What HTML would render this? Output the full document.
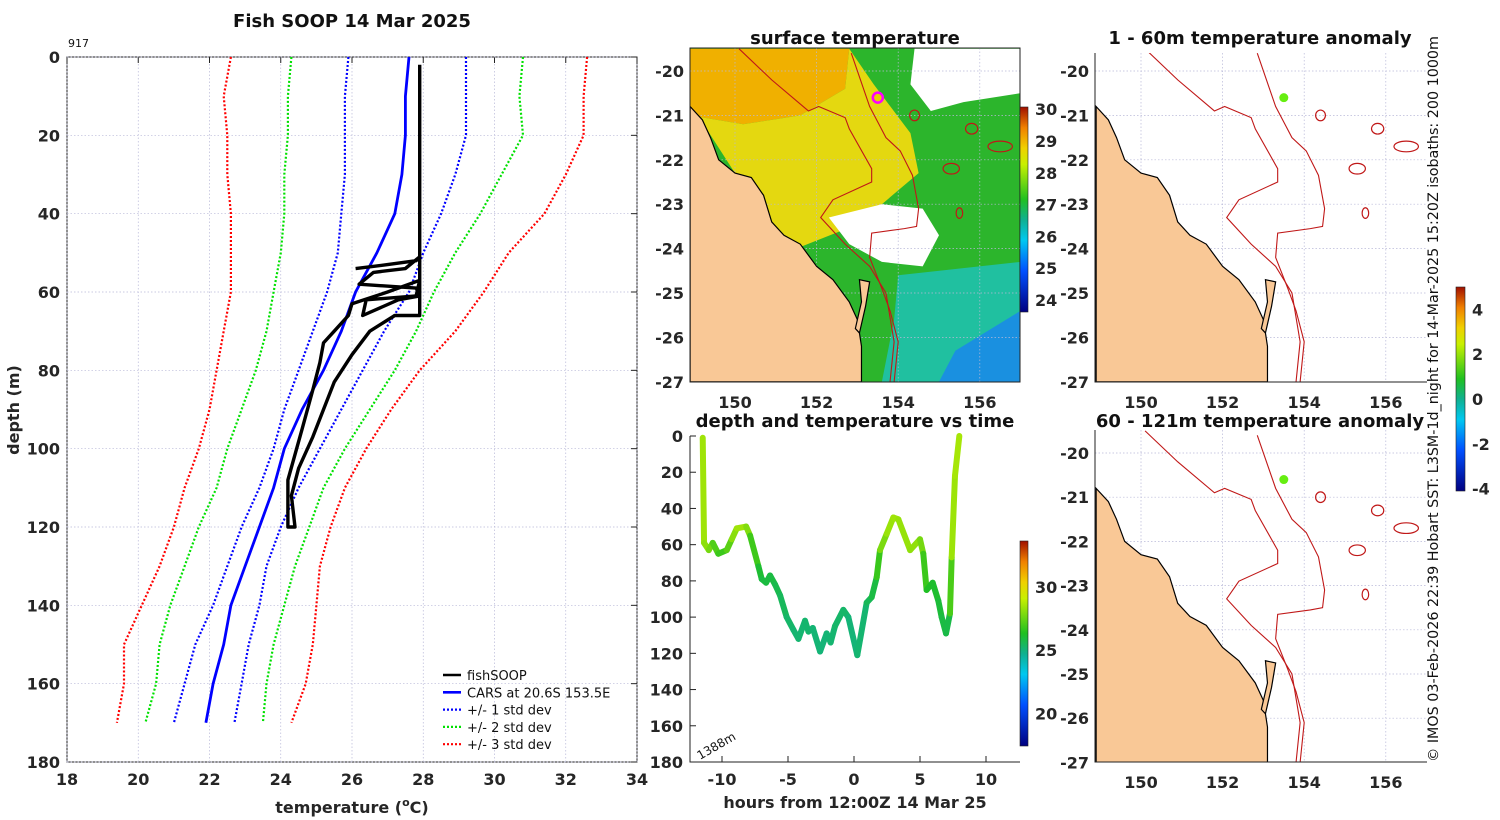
<!DOCTYPE html>
<html><head><meta charset="utf-8">
<style>
html,body{margin:0;padding:0;background:#fff;}
svg{display:block;font-family:"DejaVu Sans","Liberation Sans",sans-serif;}
.tk{font-size:16px;font-weight:bold;fill:#262626;}
.tt{font-size:18px;font-weight:bold;fill:#111;}
.lg{font-size:13px;fill:#111;}
</style></head>
<body>
<svg id="fig" width="1500" height="820" viewBox="0 0 1500 820">
<defs>
<clipPath id="clipSST"><rect x="690" y="48" width="330" height="334"/></clipPath>
<clipPath id="clipA1"><rect x="1095" y="53" width="332" height="329"/></clipPath>
<clipPath id="clipA2"><rect x="1095" y="430" width="332" height="332"/></clipPath>
<linearGradient id="cbar" x1="0" y1="1" x2="0" y2="0">
<stop offset="0" stop-color="#000080"/><stop offset="0.2" stop-color="#0050ff"/><stop offset="0.35" stop-color="#00c8f0"/><stop offset="0.45" stop-color="#10b090"/><stop offset="0.55" stop-color="#20c020"/><stop offset="0.72" stop-color="#c8f000"/><stop offset="0.8" stop-color="#f0d000"/><stop offset="0.9" stop-color="#f08000"/><stop offset="1" stop-color="#a01000"/>
</linearGradient>
</defs>
<g id="profile"></g>
<g id="maps"></g>
<g id="timep"></g>
<text x="352" y="27" text-anchor="middle" class="tt">Fish SOOP 14 Mar 2025</text>
<text x="68" y="47" font-size="11" fill="#111">917</text>
<text x="352" y="813" text-anchor="middle" class="tk" font-size="17">temperature (<tspan font-size="11" dy="-7">o</tspan><tspan dy="7">C)</tspan></text>
<text transform="translate(19,410) rotate(-90)" text-anchor="middle" class="tk" font-size="17">depth (m)</text>
<text x="855" y="44" text-anchor="middle" class="tt">surface temperature</text>
<text x="1260" y="44" text-anchor="middle" class="tt">1 - 60m temperature anomaly</text>
<text x="1260" y="427" text-anchor="middle" class="tt">60 - 121m temperature anomaly</text>
<text x="855" y="427" text-anchor="middle" class="tt">depth and temperature vs time</text>
<text x="855" y="808" text-anchor="middle" class="tk" font-size="17">hours from 12:00Z 14 Mar 25</text>
<text transform="translate(700,760) rotate(-30)" font-size="12" fill="#111">1388m</text>
<text transform="translate(1438,762) rotate(-90)" font-size="14.3" fill="#111">© IMOS 03-Feb-2026 22:39 Hobart SST: L3SM-1d_night for 14-Mar-2025 15:20Z isobaths: 200  1000m</text>
</svg>
<script>
// ---- profile data ----
const depths = [0,10,20,30,40,50,60,70,80,90,100,110,120,130,140,150,160,170];
const carsMean = [27.6,27.5,27.5,27.4,27.2,26.7,26.1,25.7,25.2,24.6,24.1,23.8,23.4,23.0,22.6,22.4,22.1,21.9];
const minus1 = [25.9,25.8,25.8,25.8,25.7,25.6,25.3,24.9,24.5,24.1,23.8,23.4,22.9,22.5,22.1,21.6,21.3,21.0];
const plus1 = [29.2,29.2,29.2,28.9,28.5,28.0,27.6,26.9,26.3,25.7,25.1,24.5,24.0,23.6,23.4,23.1,22.9,22.7];
const minus2 = [24.3,24.2,24.2,24.1,24.1,24.0,23.8,23.6,23.3,22.9,22.5,22.2,21.7,21.3,20.9,20.6,20.5,20.2];
const plus2 = [30.8,30.7,30.8,30.2,29.6,28.9,28.3,27.8,27.2,26.5,25.8,25.2,24.8,24.4,24.1,23.8,23.6,23.5];
const minus3 = [22.6,22.4,22.5,22.5,22.6,22.6,22.6,22.4,22.2,22.0,21.7,21.3,21.0,20.6,20.1,19.6,19.6,19.4];
const plus3 = [32.6,32.5,32.5,32.0,31.4,30.4,29.7,28.9,27.9,27.1,26.4,25.8,25.4,25.1,25.0,24.9,24.7,24.3];
const fishTemp = [27.9,27.9,27.9,27.2,26.5,26.0,25.5,25.2,24.9,24.5,24.3,24.4,24.2,24.2,24.6,24.9,25.1,25.2,25.5,25.9,26.0,27.0,27.9,27.8,26.4,26.3,27.3,27.9,27.8,26.2,26.6,27.5,27.9,27.8,27.0,26.1];
const fishDepth = [2,50,66,66,70,76,83,90,97,105,112,120,120,108,95,85,78,73,70,66,63,60,57,61,62,66,62,61,59,58,55,54,51,52,53,54];
const xTicks = [18,20,22,24,26,28,30,32,34];
const yTicks = [0,20,40,60,80,100,120,140,160,180];
// ---- time data ----
const hours = [-11.46,-11.36,-11.0,-10.7,-10.28,-9.64,-9.26,-8.88,-8.17,-7.87,-7.24,-6.99,-6.66,-6.36,-5.98,-5.6,-5.1,-4.59,-4.21,-3.71,-3.45,-3.12,-2.57,-2.07,-1.77,-1.44,-0.81,-0.43,0.25,0.96,1.34,1.72,1.97,2.48,2.98,3.36,4.25,5.0,5.25,5.5,5.96,6.39,6.64,6.97,7.27,7.4,7.65,7.98];
const trackDepth = [1,59,63,59,65,63,57,51,50,55,72,79,81,77,82,88,100,107,112,102,108,106,119,109,114,105,96,100,121,92,89,78,63,54,45,46,63,57,65,85,81,91,100,109,98,67,22,0];
const trackTemp = [28.6,28.4,28.0,27.6,26.8,26.9,27.8,28.5,28.5,27.5,26.3,26.0,25.9,26.0,25.8,25.7,25.4,25.3,25.2,25.3,25.3,25.3,25.1,25.2,25.2,25.3,25.4,25.3,25.0,25.5,25.7,26.1,27.5,28.3,28.5,28.5,28.2,28.3,27.3,26.4,26.3,26.1,26.0,25.8,25.9,28.3,28.6,28.6];
const hourTicks = [-10,-5,0,5,10];
const tDepthTicks = [0,20,40,60,80,100,120,140,160,180];
const sstTicks = [24,25,26,27,28,29,30];
const tempBarTicks = [20,25,30];
const anomTicks = [-4,-2,0,2,4];
const lonTicks = [150,152,154,156];
const latTicks = [-20,-21,-22,-23,-24,-25,-26,-27];

const NS='http://www.w3.org/2000/svg';
function mk(parent,tag,attrs){const e=document.createElementNS(NS,tag);for(const k in attrs)e.setAttribute(k,attrs[k]);parent.appendChild(e);return e;}

// ---- profile chart ----
const P=document.getElementById('profile');
const xT=t=>67+(t-18)*(570/16);
const yD=d=>57+d*(705/180);
let bg=mk(P,'rect',{x:67,y:57,width:570,height:705,fill:'#fff',stroke:'#222','stroke-width':1});


xTicks.forEach(t=>{
  let g=mk(P,'line',{x1:xT(t),x2:xT(t),y1:57,y2:762,stroke:'#b8b8d8','stroke-width':0.7,'stroke-dasharray':'1.5 2'});
  
  
  let tk=mk(P,'line',{x1:xT(t),x2:xT(t),y1:57,y2:63,stroke:'#222'});
  
  
  let lb=mk(P,'text',{x:xT(t),y:785,'text-anchor':'middle',class:'tk'});lb.textContent=t;
  
  
});
yTicks.forEach(d=>{
  let g=mk(P,'line',{x1:67,x2:637,y1:yD(d),y2:yD(d),stroke:'#b8b8d8','stroke-width':0.7,'stroke-dasharray':'1.5 2'});
  
  
  let tk=mk(P,'line',{x1:631,x2:637,y1:yD(d),y2:yD(d),stroke:'#222'});
  
  
  let lb=mk(P,'text',{x:60,y:yD(d)+6,'text-anchor':'end',class:'tk'});lb.textContent=d;
  
  
});
function profLine(arr,color,dotted,name){
  const pts=arr.map((t,i)=>xT(t).toFixed(1)+','+yD(depths[i]).toFixed(1)).join(' ');
  let l=mk(P,'polyline',{points:pts,fill:'none',stroke:color,'stroke-width':dotted?2.2:2.8,'stroke-dasharray':dotted?'2 2':'none'});
  
  
}
profLine(minus3,'#ff0000',true,'minus-3-std-line');
profLine(plus3,'#ff0000',true,'plus-3-std-line');
profLine(minus2,'#00e000',true,'minus-2-std-line');
profLine(plus2,'#00e000',true,'plus-2-std-line');
profLine(minus1,'#0000ff',true,'minus-1-std-line');
profLine(plus1,'#0000ff',true,'plus-1-std-line');
profLine(carsMean,'#0000ff',false,'cars-mean-line');
let fp=mk(P,'polyline',{points:fishTemp.map((t,i)=>xT(t).toFixed(1)+','+yD(fishDepth[i]).toFixed(1)).join(' '),fill:'none',stroke:'#000','stroke-width':3.4,'stroke-linejoin':'round'});


const legItems=[['fishSOOP','#000',false],['CARS at 20.6S 153.5E','#0000ff',false],['+/- 1 std dev','#0000ff',true],['+/- 2 std dev','#00e000',true],['+/- 3 std dev','#ff0000',true]];
legItems.forEach((it,i)=>{
  const y=675+i*17.3;
  let l=mk(P,'line',{x1:443,x2:461,y1:y,y2:y,stroke:it[1],'stroke-width':it[2]?2.2:2.6,'stroke-dasharray':it[2]?'2 2':'none'});
  
  
  let t=mk(P,'text',{x:467,y:y+5,class:'lg'});t.textContent=it[0];
  
  
});

// ---- colormap ----
const cstops=[[0,[0,0,128]],[0.2,[0,80,255]],[0.35,[0,200,240]],[0.45,[16,176,144]],[0.55,[32,192,32]],[0.72,[200,240,0]],[0.8,[240,208,0]],[0.9,[240,128,0]],[1,[160,16,0]]];
function cmap(v){v=Math.max(0,Math.min(1,v));for(let i=1;i<cstops.length;i++){if(v<=cstops[i][0]){const a=cstops[i-1],b=cstops[i],f=(v-a[0])/(b[0]-a[0]);return 'rgb('+a[1].map((c,j)=>Math.round(c+(b[1][j]-c)*f)).join(',')+')';}}return 'rgb(160,16,0)';}

// ---- time chart ----
const T=document.getElementById('timep');
const xH=h=>854+h*13.2;
const yTd=d=>436+d*(326/180);
let tax=mk(T,'path',{d:'M690,436V762H1020',fill:'none',stroke:'#222','stroke-width':1});


hourTicks.forEach(h=>{
  let g=mk(T,'line',{x1:xH(h),x2:xH(h),y1:756,y2:762,stroke:'#222','stroke-width':1});
  
  
  let lb=mk(T,'text',{x:xH(h),y:785,'text-anchor':'middle',class:'tk'});lb.textContent=h;
  
  
});
tDepthTicks.forEach(d=>{
  let g=mk(T,'line',{x1:690,x2:696,y1:yTd(d),y2:yTd(d),stroke:'#222','stroke-width':1});
  
  
  let lb=mk(T,'text',{x:683,y:yTd(d)+6,'text-anchor':'end',class:'tk'});lb.textContent=d;
  
  
});
const tmin=17.5,tmax=33.7;
for(let i=1;i<hours.length;i++){
  let s=mk(T,'line',{x1:xH(hours[i-1]),y1:yTd(trackDepth[i-1]),x2:xH(hours[i]),y2:yTd(trackDepth[i]),stroke:cmap(((trackTemp[i]+trackTemp[i-1])/2-tmin)/(tmax-tmin)),'stroke-width':6,'stroke-linecap':'round'});
  
  
}
let tcb=mk(T,'rect',{x:1020,y:541,width:8,height:205,fill:'url(#cbar)',stroke:'#222','stroke-width':0.6});


tempBarTicks.forEach(v=>{
  const y=746-(v-tmin)/(tmax-tmin)*205;
  let lb=mk(T,'text',{x:1035,y:y+5,class:'tk','font-size':'13'});lb.textContent=v;
  
  
});

// ---- maps ----
const M=document.getElementById('maps');
const land=[[148.9,-20.8],[149.2,-21.1],[149.4,-21.5],[149.6,-22.0],[150.0,-22.3],[150.4,-22.4],[150.7,-22.8],[150.9,-23.4],[151.2,-23.7],[151.6,-23.9],[152.0,-24.4],[152.4,-24.7],[152.8,-25.2],[153.0,-25.6],[153.1,-26.2],[153.1,-27.0],[148.9,-27.0]];
const fraser=[[153.05,-24.7],[153.3,-24.75],[153.2,-25.3],[153.05,-25.9],[152.95,-25.8],[153.1,-25.2]];
const iso200=[[150.1,-19.5],[150.9,-20.2],[151.8,-20.9],[152.05,-20.8],[152.7,-21.05],[152.8,-21.3],[153.35,-22.2],[153.35,-22.5],[152.4,-22.9],[152.1,-23.3],[152.7,-23.9],[153.3,-24.4],[153.7,-25.0],[153.9,-26.1],[153.8,-27.0]];
const iso1000=[[152.85,-19.6],[153.3,-20.8],[153.7,-21.5],[154.05,-21.8],[154.35,-22.35],[154.5,-23.1],[154.45,-23.5],[154.15,-23.55],[153.35,-23.65],[153.3,-24.2],[153.6,-24.9],[153.8,-25.4],[154.0,-26.1],[153.9,-27.0]];
const sstPolys=[
 ['#f0b000',[[148.9,-19.5],[152.8,-19.5],[152.7,-20.4],[151.6,-21.0],[150.2,-21.2],[148.9,-21.0]]],
 ['#e4d810',[[152.8,-19.5],[153.4,-20.3],[154.3,-21.4],[154.5,-22.3],[153.6,-23.0],[152.6,-23.6],[151.5,-24.0],[150.6,-23.1],[150.0,-22.3],[149.3,-21.3],[148.9,-21.0],[150.2,-21.2],[151.6,-21.0],[152.7,-20.4]]],
 ['#ffffff',[[154.4,-19.5],[157,-19.5],[157,-20.5],[155.6,-20.7],[154.8,-20.9],[154.3,-20.3]]],
 ['#ffffff',[[152.3,-23.3],[153.6,-23.0],[154.6,-23.1],[155.0,-23.7],[154.6,-24.4],[153.6,-24.3],[152.8,-23.9]]],
 ['#20c0a0',[[154.0,-24.6],[157,-24.3],[157,-27],[153.6,-27],[153.9,-25.6]]],
 ['#1a90e0',[[155.4,-26.3],[157,-25.4],[157,-27],[155.0,-27]]]
];
function drawMap(box,clip,sst,prefix){
  const xL=lon=>box.x0+(lon-150)*box.kx;
  const yL=lat=>box.y0+(-20-lat)*box.ky;
  const g=mk(M,'g',{'clip-path':'url(#'+clip+')'});
  
  
  let base=mk(g,'rect',{x:box.l,y:box.t,width:box.r-box.l,height:box.b-box.t,fill:sst?'#2cb52c':'#fff'});
  
  
  if(sst){sstPolys.forEach(p=>{let e=mk(g,'polygon',{points:p[1].map(q=>xL(q[0])+','+yL(q[1])).join(' '),fill:p[0]});
    
    });}
  lonTicks.forEach(lo=>{let l=mk(g,'line',{x1:xL(lo),x2:xL(lo),y1:box.t,y2:box.b,stroke:'#b8b8d8','stroke-width':0.7,'stroke-dasharray':'1.5 2'});
    
    });
  latTicks.forEach(la=>{let l=mk(g,'line',{x1:box.l,x2:box.r,y1:yL(la),y2:yL(la),stroke:'#b8b8d8','stroke-width':0.7,'stroke-dasharray':'1.5 2'});
    
    });
  [land,fraser].forEach(p=>{let e=mk(g,'polygon',{points:p.map(q=>xL(q[0])+','+yL(q[1])).join(' '),fill:'#f9c896',stroke:'#000','stroke-width':1.2});
    
    });
  [iso200,iso1000].forEach(p=>{let e=mk(g,'polyline',{points:p.map(q=>xL(q[0])+','+yL(q[1])).join(' '),fill:'none',stroke:'#c01818','stroke-width':1.1});
    
    });
  [[154.4,-21.0,0.12],[155.8,-21.3,0.15],[155.3,-22.2,0.2],[155.5,-23.2,0.08],[156.5,-21.7,0.3]].forEach(s=>{let e=mk(g,'ellipse',{cx:xL(s[0]),cy:yL(s[1]),rx:s[2]*box.kx,ry:0.12*box.ky,fill:'none',stroke:'#c01818','stroke-width':1.2});
    
    });
  let mk2=mk(g,'circle',{cx:xL(153.5),cy:yL(-20.6),r:sst?5:4.5,fill:sst?'#e8d000':'#66ee11',stroke:sst?'#ff00ff':'none','stroke-width':2.5});
  
  
  let ax=mk(M,'path',{d:'M'+box.l+','+box.t+'V'+box.b+'H'+box.r+(sst?'V'+box.t+'Z':''),fill:'none',stroke:'#222','stroke-width':1});
  
  
  lonTicks.forEach(lo=>{let t=mk(M,'text',{x:xL(lo),y:box.b+26,'text-anchor':'middle',class:'tk'});t.textContent=lo;
    
    });
  latTicks.forEach(la=>{let t=mk(M,'text',{x:box.l-6,y:yL(la)+6,'text-anchor':'end',class:'tk'});t.textContent=la;
    
    });
}
drawMap({l:690,r:1020,t:48,b:382,x0:735,kx:40.8,y0:71,ky:44.4},'clipSST',true,'sst');
drawMap({l:1095,r:1427,t:53,b:382,x0:1141,kx:40.8,y0:71,ky:44.4},'clipA1',false,'anomaly-shallow');
drawMap({l:1095,r:1427,t:430,b:762,x0:1141,kx:40.8,y0:453,ky:44.2},'clipA2',false,'anomaly-deep');
let scb=mk(M,'rect',{x:1020,y:107,width:8,height:205,fill:'url(#cbar)',stroke:'#222','stroke-width':0.6});


sstTicks.forEach(v=>{const y=301-(v-24)*31.8;
  let t=mk(M,'text',{x:1035,y:y+5,class:'tk','font-size':'13'});t.textContent=v;
  
  });
let acb=mk(M,'rect',{x:1456,y:287,width:9,height:204,fill:'url(#cbar)',stroke:'#222','stroke-width':0.6});


anomTicks.forEach(v=>{const y=400-v*22.4;
  let t=mk(M,'text',{x:1472,y:y+5,class:'tk','font-size':'14'});t.textContent=v;
  
  });
</script>
</body></html>
